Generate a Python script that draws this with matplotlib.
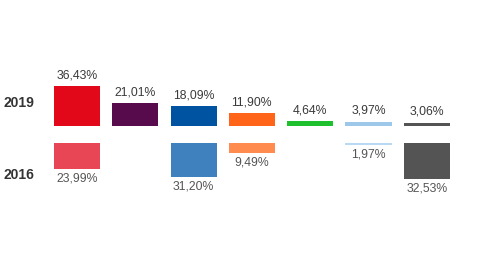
import numpy as np
import matplotlib
matplotlib.use("Agg")
import matplotlib.pyplot as plt

plt.rcParams['font.family'] = ['Liberation Sans', 'DejaVu Sans']

# vote share per party, two elections
years = ['2019', '2016']
votes_2019 = [36.43, 21.01, 18.09, 11.90, 4.64, 3.97, 3.06]
votes_2016 = [23.99, np.nan, 31.20, 9.49, np.nan, 1.97, 32.53]
colors_2019 = ['#E3071A', '#570A4C', '#0053A0', '#FF6419', '#1EC02E', '#9DC8EA', '#545454']
colors_2016 = ['#E84655', '#570A4C', '#3F80BF', '#FF8B4F', '#1EC02E', '#B9DAF2', '#545454']

W, H = 480, 275
fig = plt.figure(figsize=(W / 100, H / 100), dpi=100)
ax = fig.add_axes([0, 0, 1, 1])
ax.axis('off')

px = 1.1          # pixels per percentage point
step = 58.3       # pixels between bars
gap = 17 / px     # gap between the two baselines
x = np.arange(len(votes_2019))

ax.set_xlim(-77 / step, (W - 77) / step)
ax.set_ylim(-(H - 126) / px, 126 / px)

ax.bar(x, votes_2019, width=0.79, color=colors_2019)
v16 = np.array(votes_2016)
ax.bar(x, -v16, bottom=-gap, width=0.79, color=colors_2016)


def fmt(v):
    return f'{v:.2f}%'.replace('.', ',')


for i, v in enumerate(votes_2019):
    ax.annotate(fmt(v), (x[i], v), xytext=(0, 3.5), textcoords='offset points',
                ha='center', va='bottom', fontsize=8.8, color='#3a3a3a')

for i, v in enumerate(votes_2016):
    if np.isnan(v):
        continue
    ax.annotate(fmt(v), (x[i], -gap - v), xytext=(0, -2.5), textcoords='offset points',
                ha='center', va='top', fontsize=8.8, color='#555555')

fig.text(4 / W, 1 - 103 / H, years[0], ha='left', va='center',
         fontsize=10, fontweight='bold', color='#333333')
fig.text(4 / W, 1 - 175 / H, years[1], ha='left', va='center',
         fontsize=10, fontweight='bold', color='#333333')

fig.savefig('out.png', dpi=100, facecolor='white')
